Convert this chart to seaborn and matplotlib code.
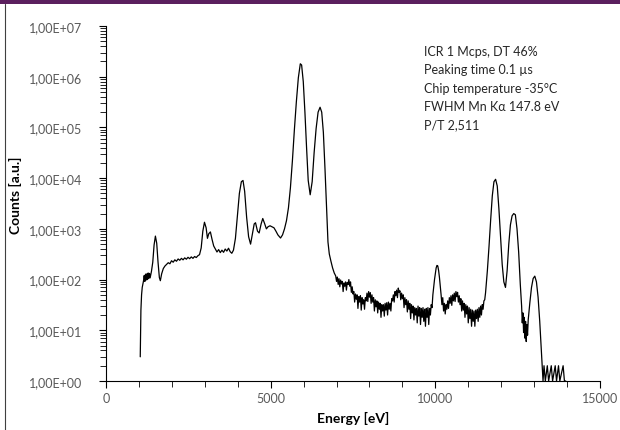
import numpy as np
import matplotlib
matplotlib.use("Agg")
import matplotlib.pyplot as plt
import matplotlib.ticker as mticker
from matplotlib.patches import Rectangle
import seaborn as sns

# Spectrum, in pieces (energy in eV, counts)
low_ev = [
    1040, 1050, 1060, 1080, 1100, 1120, 1140, 1160, 1180, 1200, 1220, 1240, 1260, 1280,
    1300, 1320, 1340, 1360, 1380, 1420, 1460, 1500, 1540, 1580, 1620, 1650, 1690,
    1740, 1790, 1840, 1890, 1940, 1990, 2040, 2090, 2140, 2190, 2240, 2290, 2340, 2390,
    2440, 2490, 2540, 2590, 2640, 2690, 2740, 2790, 2840,
    2890, 2940, 2990, 3040, 3080, 3120, 3170, 3220, 3270, 3320, 3370, 3420, 3470, 3520,
    3570, 3620, 3670, 3720, 3770, 3820, 3870,
]
low_counts = [
    3, 8, 25, 50, 70, 82, 95, 120, 92, 128, 98, 130, 100, 135,
    105, 132, 108, 125, 145, 220, 480, 720, 520, 220, 110, 95, 130,
    165, 185, 200, 215, 205, 235, 220, 245, 230, 255, 240, 262, 245, 268,
    252, 275, 258, 280, 262, 285, 272, 295, 310,
    420, 900, 1350, 1050, 650, 800, 870, 620, 460, 400, 350, 390, 340, 380,
    345, 400, 365, 415, 355, 330, 380,
]

peak_ev = [
    3930, 3990, 4050, 4110, 4160, 4210, 4270, 4330, 4390, 4440, 4500, 4540, 4600, 4650,
    4710, 4760, 4820, 4870, 4920, 4980, 5040, 5100, 5160, 5220, 5300, 5360,
    5420, 5480, 5540, 5600, 5660, 5720, 5780, 5840, 5900, 5940, 5990, 6040, 6090, 6140,
    6200, 6260, 6320, 6380, 6440, 6500, 6550, 6600, 6650, 6700, 6740, 6780, 6830, 6880, 6930,
]
peak_counts = [
    650, 1800, 5000, 8500, 9000, 5500, 1700, 700, 500, 750, 1250, 1320, 900, 830,
    1250, 1600, 1250, 1000, 1100, 1150, 1100, 1050, 900, 760, 660, 760,
    1000, 1450, 2600, 6500, 22000, 90000, 320000, 950000, 1800000, 1700000, 800000, 200000, 40000, 9000,
    4700, 8500, 32000, 95000, 200000, 250000, 200000, 80000, 15000, 2500, 550, 320, 230, 170, 135,
]

tail_ev = [
    6975, 7000, 7025, 7050, 7075, 7100, 7125, 7150, 7175, 7200, 7225, 7250, 7275, 7300,
    7325, 7350, 7375, 7400, 7425, 7450, 7475, 7500, 7525, 7550, 7575, 7600, 7625, 7650,
    7675, 7700, 7725, 7750, 7775, 7800, 7825, 7850, 7875, 7900, 7925, 7950, 7975, 8000,
    8025, 8050, 8075, 8100, 8125, 8150, 8175, 8200, 8225, 8250, 8275, 8300, 8325, 8350,
    8375, 8400, 8425, 8450, 8475, 8500, 8525, 8550, 8575, 8600, 8625, 8650, 8675, 8700,
    8725, 8750, 8775, 8800, 8825, 8850, 8875, 8900, 8925, 8950, 8975, 9000, 9025, 9050,
    9075, 9100, 9125, 9150, 9175, 9200, 9225, 9250, 9275, 9300, 9325, 9350, 9375, 9400,
    9425, 9450, 9475, 9500, 9525, 9550, 9575, 9600, 9625, 9650, 9675, 9700, 9725, 9750,
    9775, 9800, 9825, 9850, 9875, 9900, 9925, 9950, 9975, 10000, 10025, 10050, 10075, 10100,
    10125, 10150, 10175, 10200, 10225, 10250, 10275, 10300, 10325, 10350, 10375, 10400,
    10425, 10450, 10475, 10500, 10525, 10550, 10575, 10600, 10625, 10650, 10675, 10700,
    10725, 10750, 10775, 10800, 10825, 10850, 10875, 10900, 10925, 10950, 10975, 11000,
    11025, 11050, 11075, 11100, 11125, 11150, 11175, 11200, 11225, 11250, 11275, 11300,
    11325, 11350, 11375, 11400, 11425, 11450, 11475, 11500, 11525,
]
tail_counts = [
    118, 92, 112, 80, 104, 72, 98, 82, 92, 58, 86, 74, 90, 62,
    88, 80, 100, 74, 90, 56, 72, 52, 58, 36, 52, 41, 50, 27,
    46, 36, 48, 25, 44, 33, 40, 26, 44, 38, 54, 37, 58, 45,
    55, 34, 50, 36, 44, 24, 40, 29, 38, 22, 36, 26, 34, 18,
    32, 24, 32, 19, 34, 25, 35, 20, 36, 26, 34, 24, 42, 38,
    50, 36, 58, 48, 62, 44, 68, 56, 60, 40, 54, 42, 50, 28,
    44, 32, 40, 23, 38, 26, 34, 17, 32, 22, 30, 16, 28, 20,
    27, 14, 30, 19, 28, 13, 27, 18, 28, 15, 26, 12, 27, 18,
    28, 13, 27, 20, 32, 28, 50, 70, 100, 130, 170, 190, 185, 150,
    110, 75, 50, 32, 44, 24, 34, 21, 32, 26, 38, 27,
    44, 34, 48, 31, 50, 38, 54, 37, 58, 46, 56, 36,
    48, 32, 42, 24, 38, 25, 34, 18, 32, 21, 30, 14,
    28, 17, 26, 12, 25, 15, 24, 12, 25, 17, 26, 15,
    28, 18, 30, 20, 32, 26, 38, 40, 55,
]

high_ev = [
    11580, 11630, 11680, 11730, 11780, 11830, 11880, 11930, 11980, 12030, 12080, 12130,
    12180, 12230, 12280, 12330, 12380, 12430, 12480, 12530, 12580, 12620, 12640, 12660,
    12680, 12700, 12720, 12740, 12760, 12780, 12800, 12820, 12840, 12870, 12920, 12970,
    13020, 13070, 13120, 13170, 13210, 13240, 13270, 13300, 13340, 13400, 13440, 13520,
    13560, 13640, 13680, 13740, 13780, 13880, 13920, 13960,
]
high_counts = [
    150, 450, 1500, 4500, 8500, 9500, 7000, 2500, 700, 200, 90, 70,
    150, 500, 1200, 1800, 2000, 1900, 1000, 350, 80, 30, 14, 22,
    9, 18, 7, 15, 6, 13, 8, 16, 22, 35, 70, 105,
    117, 90, 45, 15, 5, 2.2, 1, 2, 1, 2, 1, 2,
    1, 2, 1, 2, 1, 2, 1, 1,
]

y_ticks = [1e0, 1e1, 1e2, 1e3, 1e4, 1e5, 1e6, 1e7]
x_ticks = [0, 5000, 10000, 15000]
info_lines = [
    "ICR 1 Mcps, DT 46%",
    "Peaking time 0.1 µs",
    "Chip temperature -35°C",
    "FWHM Mn Kα 147.8 eV",
    "P/T 2,511",
]

energy_ev = low_ev + peak_ev + tail_ev + high_ev
counts = low_counts + peak_counts + tail_counts + high_counts
assert len(energy_ev) == len(counts)

sns.set_theme(style="white")
plt.rcParams["font.family"] = ["Lato", "DejaVu Sans"]

W, H = 620, 431
fig = plt.figure(figsize=(W / 100, H / 100), dpi=100)
ax = fig.add_axes([106 / W, 1 - 382 / H, (600 - 106) / W, (382 - 27) / H])

sns.lineplot(x=energy_ev, y=counts, ax=ax, color="black", linewidth=0.9,
             estimator=None, sort=False)

ax.set_yscale("log")
ax.set_xlim(0, 15000)
ax.set_ylim(1, 1e7)

ax.set_yticks(y_ticks)
ax.yaxis.set_major_formatter(mticker.FuncFormatter(lambda v, p: f"{v:.2E}".replace(".", ",")))
ax.yaxis.set_minor_locator(mticker.LogLocator(base=10, subs=np.arange(2, 10)))
ax.yaxis.set_minor_formatter(mticker.NullFormatter())
ax.set_xticks(x_ticks)
ax.xaxis.set_minor_locator(mticker.MultipleLocator(1000))

for side in ["top", "right"]:
    ax.spines[side].set_visible(False)
for side in ["left", "bottom"]:
    ax.spines[side].set_color("black")
    ax.spines[side].set_linewidth(0.8)

ax.tick_params(axis="both", which="major", direction="out", length=5, width=0.8,
               color="black", labelcolor="#595959", labelsize=9)
ax.tick_params(axis="both", which="minor", direction="out", length=4, width=0.6,
               color="black")
ax.tick_params(axis="y", which="major", pad=12)
ax.tick_params(axis="x", which="major", pad=3)
ax.tick_params(left=True, bottom=True, which="both")

ax.set_xlabel("")
ax.set_ylabel("")
fig.text(353 / W, 1 - 418 / H, "Energy [eV]", ha="center", va="center",
         fontsize=10, fontweight="bold", color="black")
fig.text(15 / W, 1 - 195 / H, "Counts [a.u.]", ha="center", va="center",
         rotation=90, fontsize=10, fontweight="bold", color="black")

for i, line in enumerate(info_lines):
    fig.text(424 / W, 1 - (52 + i * 18.3) / H, line, ha="left", va="center",
             fontsize=9, color="#262626")

# frame: purple band on top and thin line at left
fig.patches.append(Rectangle((0, 1 - 5 / H), 1, 5 / H, transform=fig.transFigure,
                             facecolor="#5b1f5e", edgecolor="none"))
fig.lines.append(plt.Line2D([4.5 / W, 4.5 / W], [0, 1 - 5 / H], transform=fig.transFigure,
                            color="#404040", linewidth=0.8))

fig.savefig("out.png", dpi=100, facecolor="white")
